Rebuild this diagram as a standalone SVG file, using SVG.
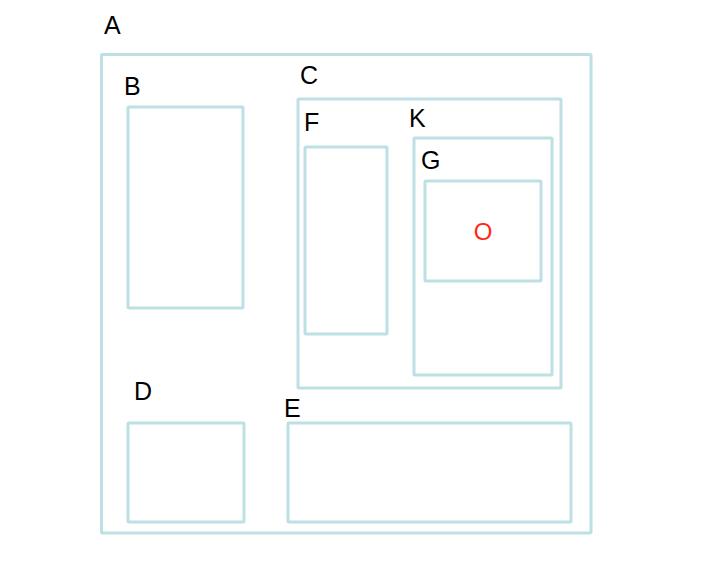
<svg xmlns="http://www.w3.org/2000/svg" width="720" height="565" viewBox="0 0 720 565">
<style>
.box{fill:none;stroke:#bde0e4;stroke-width:3;}
.lbl{font-family:"Liberation Sans",Arial,sans-serif;font-size:25px;fill:#000;}
.o{font-family:"Liberation Sans",Arial,sans-serif;font-size:24px;fill:#ff2a1a;text-anchor:middle;}
</style>
<rect width="720" height="565" fill="#fff"/>
<g id="A"><rect class="box" x="101.5" y="54.5" width="489.5" height="478.5" rx="1"/><text class="lbl" x="104" y="34">A</text></g>
<g id="B"><rect class="box" x="128" y="107" width="115" height="201" rx="1"/><text class="lbl" x="124" y="95">B</text></g>
<g id="C"><rect class="box" x="298" y="99" width="263" height="289" rx="1"/><text class="lbl" x="300" y="84">C</text></g>
<g id="F"><rect class="box" x="305" y="147" width="82" height="187" rx="1"/><text class="lbl" x="304" y="131">F</text></g>
<g id="K"><rect class="box" x="414" y="138" width="138" height="237" rx="1"/><text class="lbl" x="409" y="127">K</text></g>
<g id="G"><rect class="box" x="425" y="181" width="116" height="100" rx="1"/><text class="lbl" x="421" y="169">G</text><text class="o" x="483" y="240">O</text></g>
<g id="D"><rect class="box" x="128" y="423" width="116" height="99" rx="1"/><text class="lbl" x="134" y="400">D</text></g>
<g id="E"><rect class="box" x="288" y="423" width="283" height="99" rx="1"/><text class="lbl" x="284" y="417">E</text></g>
<g id="connectors"></g>
</svg>
